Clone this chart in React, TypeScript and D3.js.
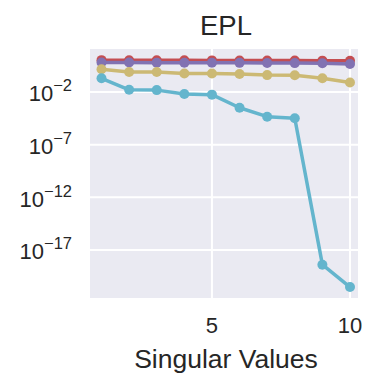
import React from 'react';
import { scaleLinear, scaleLog, line } from 'd3';

// singular value index
const steps = [1, 2, 3, 4, 5, 6, 7, 8, 9, 10];

// singular values per series
const redValues = [10.5, 10.3, 10.2, 10.1, 10, 9.9, 9.8, 9.6, 9.4, 9.0];
const purpleValues = [6.4, 6.2, 6.1, 6.0, 5.9, 5.8, 5.6, 5.5, 5.3, 4.6];
const yellowValues = [1.45, 0.8, 0.78, 0.57, 0.56, 0.5, 0.4, 0.38, 0.2, 0.08];
const cyanValues = [0.2, 0.016, 0.015, 0.0063, 0.0056, 3.2e-4, 4.5e-5, 3.2e-5, 4e-19, 3e-21];

const series = [
  { name: 'red', color: '#C44E52', values: redValues },
  { name: 'purple', color: '#8172B2', values: purpleValues },
  { name: 'yellow', color: '#CCB974', values: yellowValues },
  { name: 'cyan', color: '#64B5CD', values: cyanValues },
];

const xTicks = [5, 10];
const yTickExponents = [-2, -7, -12, -17];

const left = 90;
const right = 358;
const top = 49;
const bottom = 298;
const font = '"Liberation Sans", Arial, sans-serif';

const App = () => {
  const x = scaleLinear().domain([0.583, 10.29]).range([left, right]);
  const y = scaleLog().domain([Math.pow(10, -21.56), Math.pow(10, 2.08)]).range([bottom, top]);

  const path = line<number>()
    .x((d, i) => x(steps[i]))
    .y((d) => y(d));

  return (
    <svg width={365} height={376} style={{ position: 'absolute', left: 0, top: 0 }}>
      <rect x={0} y={0} width={365} height={376} fill="#fff" />
      <rect x={left} y={top} width={right - left} height={bottom - top} fill="#EAEAF2" />
      {yTickExponents.map((e) => (
        <line key={'gy' + e} x1={left} x2={right} y1={y(Math.pow(10, e))} y2={y(Math.pow(10, e))}
          stroke="#fff" strokeWidth={2} />
      ))}
      {xTicks.map((t) => (
        <line key={'gx' + t} x1={x(t)} x2={x(t)} y1={top} y2={bottom} stroke="#fff" strokeWidth={2} />
      ))}
      {series.map((s) => (
        <g key={s.name}>
          <path d={path(s.values) || ''} fill="none" stroke={s.color} strokeWidth={3.5} strokeLinejoin="round" />
          {s.values.map((v, i) => (
            <circle key={i} cx={x(steps[i])} cy={y(v)} r={5} fill={s.color} />
          ))}
        </g>
      ))}
      {yTickExponents.map((e) => (
        <text key={'ty' + e} x={72} y={y(Math.pow(10, e)) + 9.5} textAnchor="end"
          fontFamily={font} fontSize={22} fill="#262626">
          10<tspan dy={-10} fontSize={16.5}>{'\u2212' + Math.abs(e)}</tspan>
        </text>
      ))}
      {xTicks.map((t) => (
        <text key={'tx' + t} x={x(t)} y={333} textAnchor="middle" fontFamily={font} fontSize={22} fill="#262626">
          {t}
        </text>
      ))}
      <text x={(left + right) / 2 + 2} y={368} textAnchor="middle" fontFamily={font} fontSize={26.5} fill="#262626">
        Singular Values
      </text>
      <text x={(left + right) / 2 + 2} y={35} textAnchor="middle" fontFamily={font} fontSize={27.5} fill="#262626">
        EPL
      </text>
    </svg>
  );
};

export default App;
